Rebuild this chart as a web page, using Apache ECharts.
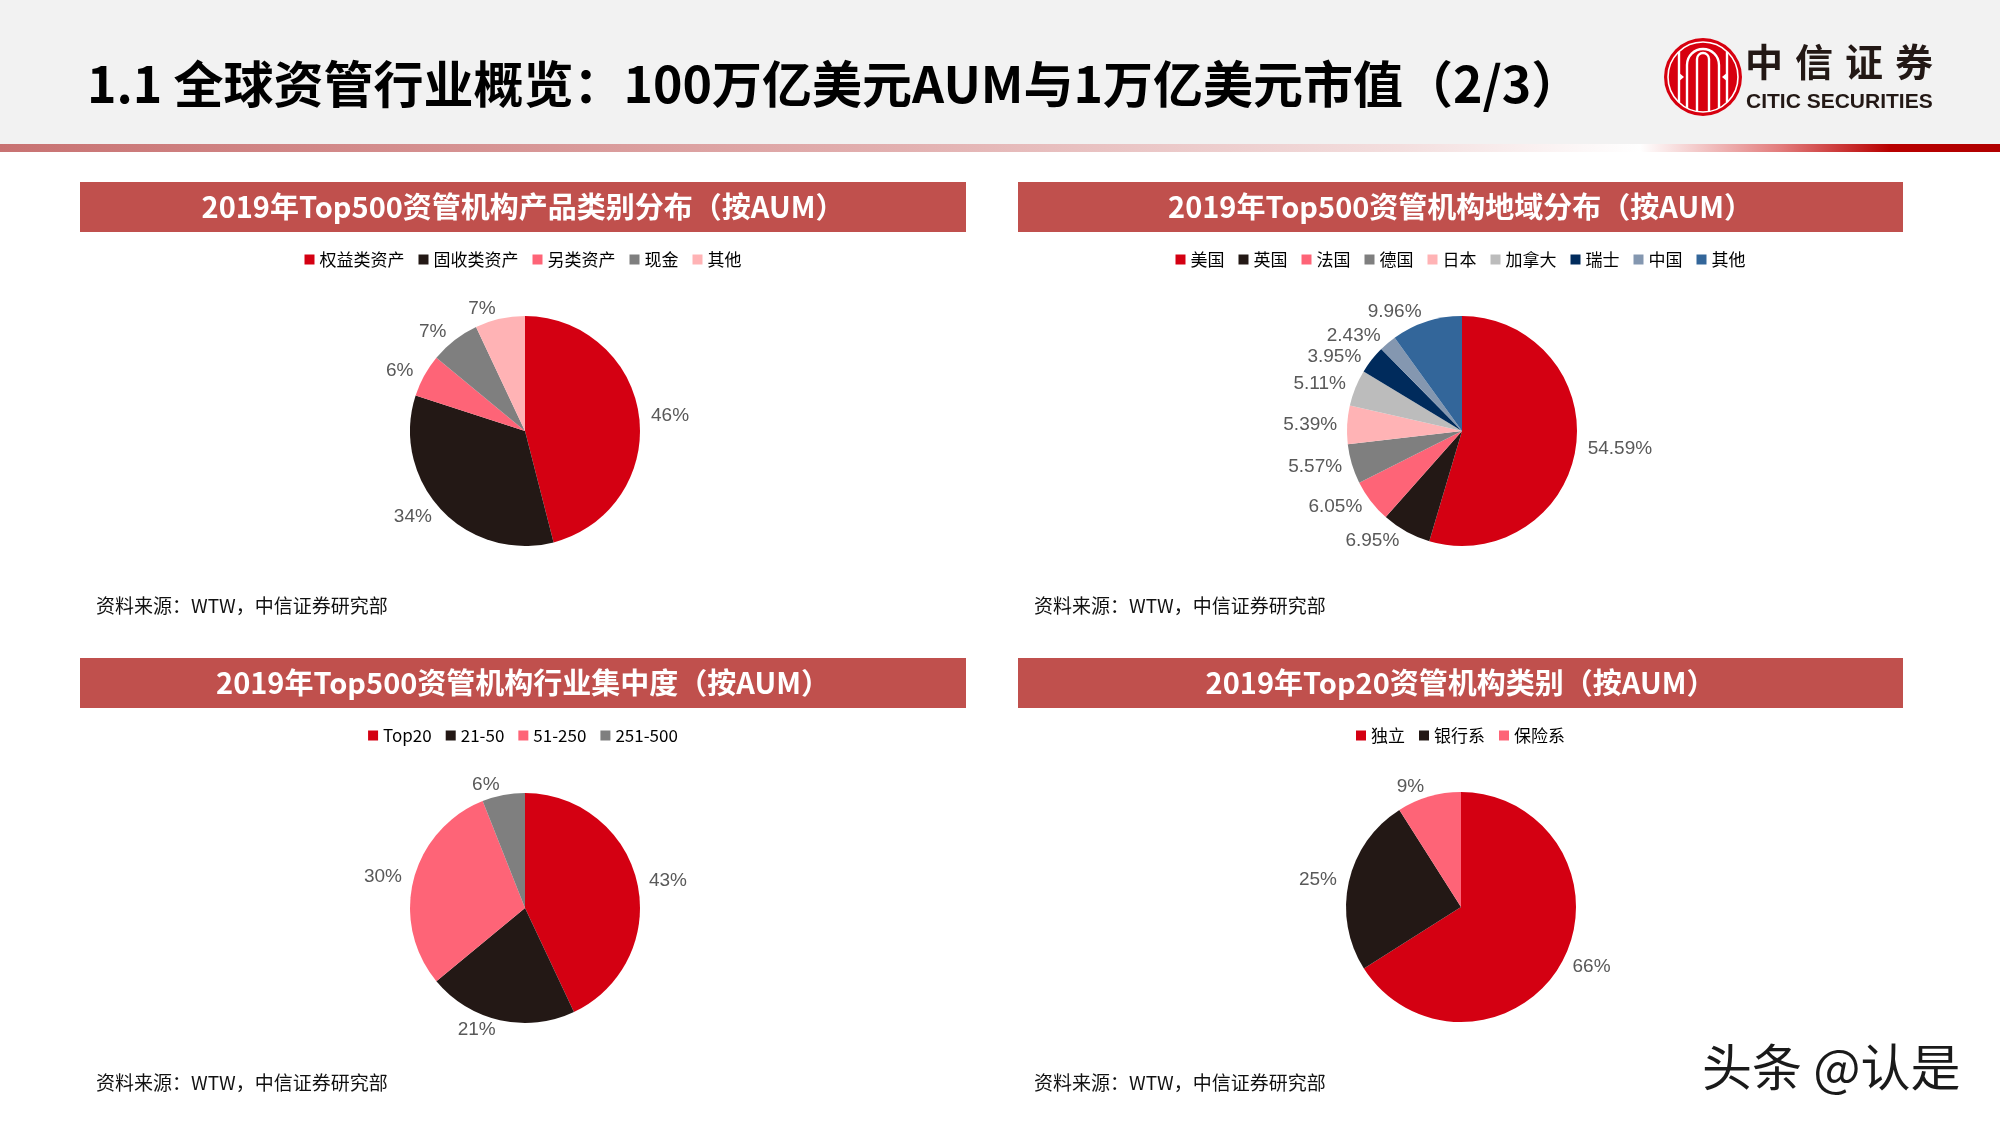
<!DOCTYPE html>
<html>
<head>
<meta charset="utf-8">
<script src="https://cdn.jsdelivr.net/npm/echarts@6/dist/echarts.min.js"></script>
<style>
html,body{margin:0;padding:0;background:#fff;}
#page{position:absolute;left:0;top:0;width:2000px;height:1125px;}
.pane{position:absolute;}
</style>
</head>
<body>
<div id="page"></div>
<div id="c1" class="pane" style="left:80px;top:232px;width:886px;height:420px;"></div>
<div id="c2" class="pane" style="left:1018px;top:232px;width:885px;height:420px;"></div>
<div id="c3" class="pane" style="left:80px;top:708px;width:886px;height:417px;"></div>
<div id="c4" class="pane" style="left:1018px;top:708px;width:885px;height:417px;"></div>
<script>
// ---------- data ----------
const pageTitle = '1.1 全球资管行业概览：100万亿美元AUM与1万亿美元市值（2/3）';
const panelTitles = [
  '2019年Top500资管机构产品类别分布（按AUM）',
  '2019年Top500资管机构地域分布（按AUM）',
  '2019年Top500资管机构行业集中度（按AUM）',
  '2019年Top20资管机构类别（按AUM）'
];
const sourceNote = '资料来源：WTW，中信证券研究部';

const productCats = ['权益类资产', '固收类资产', '另类资产', '现金', '其他'];
const productVals = [46, 34, 6, 7, 7];

const regionCats = ['美国', '英国', '法国', '德国', '日本', '加拿大', '瑞士', '中国', '其他'];
const regionVals = [54.59, 6.95, 6.05, 5.57, 5.39, 5.11, 3.95, 2.43, 9.96];

const concCats = ['Top20', '21-50', '51-250', '251-500'];
const concVals = [43, 21, 30, 6];

const typeCats = ['独立', '银行系', '保险系'];
const typeVals = [66, 25, 9];

// ---------- styles ----------
const RED = '#d40012', DARK = '#231815', PINK = '#fe6477', GRAY = '#7f7f7f',
      LPINK = '#ffb3b5', LGRAY = '#bcbcbc', NAVY = '#002b5c', GBLUE = '#8497b0', BLUE = '#33669a';
const productColors = [RED, DARK, PINK, GRAY, LPINK];
const regionColors = [RED, DARK, PINK, GRAY, LPINK, LGRAY, NAVY, GBLUE, BLUE];
const concColors = [RED, DARK, PINK, GRAY];
const typeColors = [RED, DARK, PINK];

const CJK = '"Noto Sans CJK SC", "Microsoft YaHei", sans-serif';
const LAT = '"Liberation Sans", Arial, sans-serif';

// ---------- page (background, headers, texts) ----------
const page = echarts.init(document.getElementById('page'), null, {renderer: 'canvas'});
const g = [];
g.push({type: 'rect', shape: {x: 0, y: 0, width: 2000, height: 145}, style: {fill: '#f2f2f2'}, silent: true});
g.push({type: 'rect', shape: {x: 0, y: 144, width: 2000, height: 8}, silent: true,
  style: {fill: new echarts.graphic.LinearGradient(0, 0, 1, 0, [
    {offset: 0, color: '#c87272'},
    {offset: 0.45, color: '#e2b0b0'},
    {offset: 0.7, color: '#f3dede'},
    {offset: 0.82, color: '#ffffff'},
    {offset: 0.89, color: '#e27c7c'},
    {offset: 0.945, color: '#b80000'},
    {offset: 1, color: '#b00000'}
  ])}});
g.push({type: 'text', x: 87, y: 84, silent: true,
  style: {text: pageTitle, font: 'bold 50px ' + CJK, fill: '#000', textVerticalAlign: 'middle', textAlign: 'left'}});

// logo
const lx = 1703, ly = 77;
const W = {fill: 'none', stroke: '#fff', lineWidth: 2.4};
g.push({type: 'circle', shape: {cx: lx, cy: ly, r: 39}, style: {fill: '#d7000f'}, silent: true});
g.push({type: 'circle', shape: {cx: lx, cy: ly, r: 35}, style: {fill: 'none', stroke: '#fff', lineWidth: 1.6}, silent: true});
[[16, -12, 31], [6, -18, 34]].forEach(([r, top, bot]) => {
  g.push({type: 'polyline', silent: true, style: W, shape: {points: [[lx - r, ly + bot], [lx - r, ly + top]]}});
  g.push({type: 'polyline', silent: true, style: W, shape: {points: [[lx + r, ly + bot], [lx + r, ly + top]]}});
  g.push({type: 'arc', silent: true, style: W,
    shape: {cx: lx, cy: ly + top, r: r, startAngle: Math.PI, endAngle: Math.PI * 2, clockwise: true}});
});
[-1, 1].forEach(s => {
  g.push({type: 'polyline', silent: true, style: W, shape: {points: [[lx + s * 24, ly - 25], [lx + s * 24, ly + 25]]}});
  g.push({type: 'polygon', silent: true, style: {fill: '#fff'},
    shape: {points: [[lx + s * 25, ly - 5], [lx + s * 25, ly + 5], [lx + s * 19, ly]]}});
});
['中', '信', '证', '券'].forEach((ch, i) => {
  g.push({type: 'text', x: 1764 + i * 50, y: 62, silent: true,
    style: {text: ch, font: 'bold 38px ' + CJK, fill: '#231815', textAlign: 'center', textVerticalAlign: 'middle'}});
});
g.push({type: 'text', x: 1746, y: 102, silent: true,
  style: {text: 'CITIC SECURITIES', font: 'bold 21px ' + LAT, fill: '#231815', textAlign: 'left', textVerticalAlign: 'middle'}});

// panel headers
const panels = [
  {x: 80, y: 182, w: 886, sy: 606},
  {x: 1018, y: 182, w: 885, sy: 606},
  {x: 80, y: 658, w: 886, sy: 1083},
  {x: 1018, y: 658, w: 885, sy: 1083}
];
panels.forEach((p, i) => {
  g.push({type: 'rect', shape: {x: p.x, y: p.y, width: p.w, height: 50}, style: {fill: '#c0504d'}, silent: true});
  g.push({type: 'text', x: p.x + p.w / 2, y: p.y + 25, silent: true,
    style: {text: panelTitles[i], font: 'bold 29px ' + CJK, fill: '#fff', textAlign: 'center', textVerticalAlign: 'middle'}});
  g.push({type: 'text', x: p.x + 16, y: p.sy, silent: true,
    style: {text: sourceNote, font: '19px ' + CJK, fill: '#111', textAlign: 'left', textVerticalAlign: 'middle'}});
});
g.push({type: 'text', x: 1702, y: 1067, silent: true,
  style: {text: '头条 @认是', font: '50px ' + CJK, fill: '#1a1a1a', textAlign: 'left', textVerticalAlign: 'middle'}});
page.setOption({animation: false, graphic: g});

// ---------- pies ----------
function pieOption(cats, vals, colors, decimals, center) {
  return {
    animation: false,
    color: colors,
    legend: {
      data: cats, left: 'center', top: 19, padding: 0,
      icon: 'rect', itemWidth: 10, itemHeight: 10, itemGap: 14,
      selectedMode: false,
      textStyle: {fontSize: 17, color: '#000', fontFamily: CJK}
    },
    series: [{
      type: 'pie',
      center: center,
      radius: 115,
      startAngle: 90,
      clockwise: true,
      avoidLabelOverlap: true,
      itemStyle: {borderWidth: 0},
      label: {
        show: true, position: 'outside', distanceToLabelLine: 2,
        color: '#595959', fontSize: 19, fontFamily: LAT,
        formatter: p => p.value.toFixed(decimals) + '%'
      },
      labelLine: {show: false, length: 10, length2: 0},
      emphasis: {disabled: true},
      data: cats.map((c, i) => ({name: c, value: vals[i]}))
    }]
  };
}
echarts.init(document.getElementById('c1')).setOption(pieOption(productCats, productVals, productColors, 0, [445, 199]));
echarts.init(document.getElementById('c2')).setOption(pieOption(regionCats, regionVals, regionColors, 2, [444, 199]));
echarts.init(document.getElementById('c3')).setOption(pieOption(concCats, concVals, concColors, 0, [445, 200]));
echarts.init(document.getElementById('c4')).setOption(pieOption(typeCats, typeVals, typeColors, 0, [443, 199]));
</script>
</body>
</html>
